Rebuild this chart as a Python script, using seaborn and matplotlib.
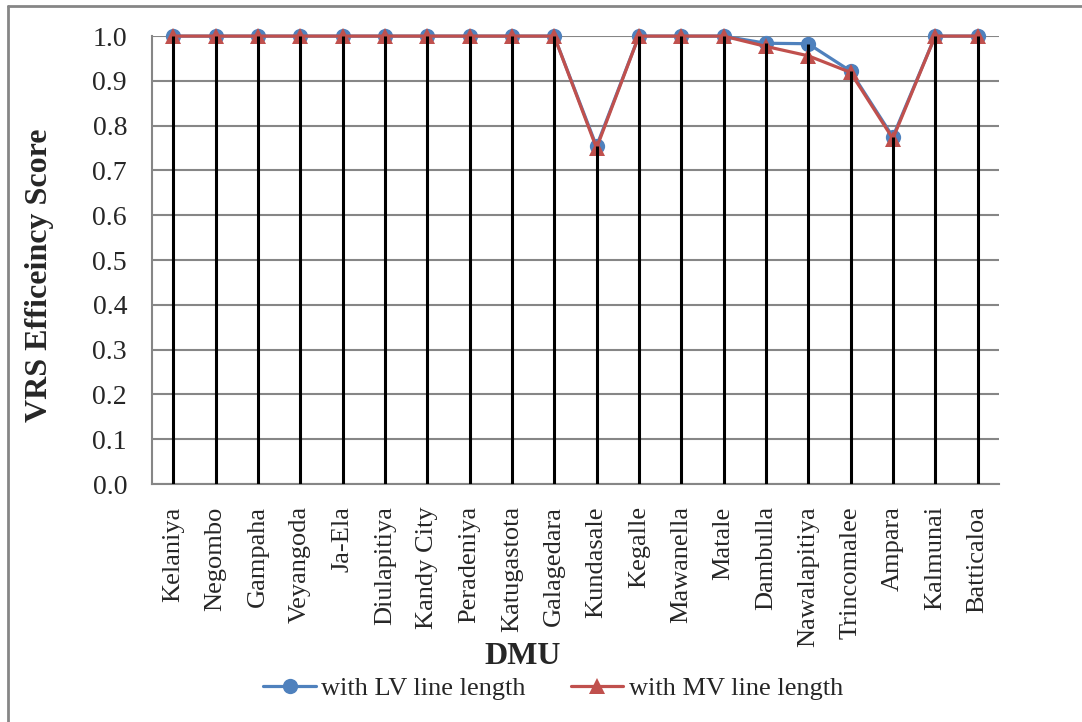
import numpy as np
import pandas as pd
import matplotlib
matplotlib.use("Agg")
import matplotlib.pyplot as plt
import seaborn as sns
from matplotlib.lines import Line2D

dmus = ["Kelaniya", "Negombo", "Gampaha", "Veyangoda", "Ja-Ela", "Diulapitiya",
        "Kandy City", "Peradeniya", "Katugastota", "Galagedara", "Kundasale",
        "Kegalle", "Mawanella", "Matale", "Dambulla", "Nawalapitiya",
        "Trincomalee", "Ampara", "Kalmunai", "Batticaloa"]
lv_scores = [1.0, 1.0, 1.0, 1.0, 1.0, 1.0, 1.0, 1.0, 1.0, 1.0, 0.754,
             1.0, 1.0, 1.0, 0.984, 0.983, 0.922, 0.775, 1.0, 1.0]
mv_scores = [1.0, 1.0, 1.0, 1.0, 1.0, 1.0, 1.0, 1.0, 1.0, 1.0, 0.750,
             1.0, 1.0, 1.0, 0.977, 0.956, 0.919, 0.771, 1.0, 1.0]
series_names = ["with LV line length", "with MV line length"]
y_ticks = [0.0, 0.1, 0.2, 0.3, 0.4, 0.5, 0.6, 0.7, 0.8, 0.9, 1.0]

sns.set_theme(style="white")
plt.rcParams['font.family'] = ['Liberation Serif', 'DejaVu Serif']

blue = "#4F81BD"
red = "#C0504D"
gray = "#868686"

fig = plt.figure(figsize=(10.82, 7.22), dpi=100)
ax = fig.add_axes([0.1405, 0.3296, 0.7825, 0.6204])

pos = np.arange(len(dmus))
df = pd.DataFrame({
    "pos": np.concatenate([pos, pos]),
    "score": lv_scores + mv_scores,
    "series": [series_names[0]] * len(dmus) + [series_names[1]] * len(dmus),
})

sns.lineplot(data=df[df.series == series_names[0]], x="pos", y="score", ax=ax,
             color=blue, lw=2.3, marker="o", markersize=11, markeredgewidth=0,
             legend=False, zorder=3, clip_on=False)
sns.lineplot(data=df[df.series == series_names[1]], x="pos", y="score", ax=ax,
             color=red, lw=2.3, marker="^", markersize=11, markeredgewidth=0,
             legend=False, zorder=4, clip_on=False)

tops = np.maximum(lv_scores, mv_scores)
ax.vlines(pos, 0, tops, colors="black", lw=2.2, zorder=5)

ax.set_xlim(-0.5, len(dmus) - 0.5)
ax.set_ylim(0, 1.0)
ax.set_yticks(y_ticks)
ax.set_yticklabels([f"{v:.1f}" for v in y_ticks], fontsize=20)
ax.set_xticks(pos)
ax.set_xticklabels(dmus, rotation=90, fontsize=19)
ax.set_xticks(np.arange(-0.5, len(dmus)), minor=True)
ax.tick_params(axis="x", which="major", length=0, pad=16)
ax.tick_params(axis="x", which="minor", length=5, width=1.5, color=gray, direction="out")
ax.tick_params(axis="y", which="major", length=6, width=1.5, color=gray, direction="out", pad=12)

ax.grid(axis="y", color=gray, lw=1.5, zorder=0)
ax.set_axisbelow(True)
for s in ["top", "right"]:
    ax.spines[s].set_visible(False)
for s in ["left", "bottom"]:
    ax.spines[s].set_color(gray)
    ax.spines[s].set_linewidth(1.5)

ax.set_xlabel("DMU", fontsize=23, fontweight="bold")
ax.set_ylabel("VRS Efficeincy Score", fontsize=23, fontweight="bold")
# place axis labels in pixel-derived figure positions
ax.xaxis.set_label_coords(523 / 1082, 1 - 656 / 722, transform=fig.transFigure)
ax.xaxis.label.set_va("center")
ax.yaxis.set_label_coords(40 / 1082, 1 - 275 / 722, transform=fig.transFigure)
ax.yaxis.label.set_va("center")

handles = [
    Line2D([], [], color=blue, lw=2.3, marker="o", markersize=11, markeredgewidth=0),
    Line2D([], [], color=red, lw=2.3, marker="^", markersize=11, markeredgewidth=0),
]
fig.legend(handles, series_names, loc="center", bbox_to_anchor=(553 / 1082, 1 - 688 / 722),
           ncol=2, frameon=False, fontsize=19, handlelength=2.0,
           handletextpad=0.2, columnspacing=1.7, borderpad=0, borderaxespad=0)

# outer frame (left and top edges visible)
fig.add_artist(Line2D([0.0074, 0.0074], [0, 1 - 6 / 722], transform=fig.transFigure,
                      color=gray, lw=2))
fig.add_artist(Line2D([0.0074, 1], [1 - 6 / 722, 1 - 6 / 722], transform=fig.transFigure,
                      color=gray, lw=2))

fig.savefig("out.png", dpi=100)
